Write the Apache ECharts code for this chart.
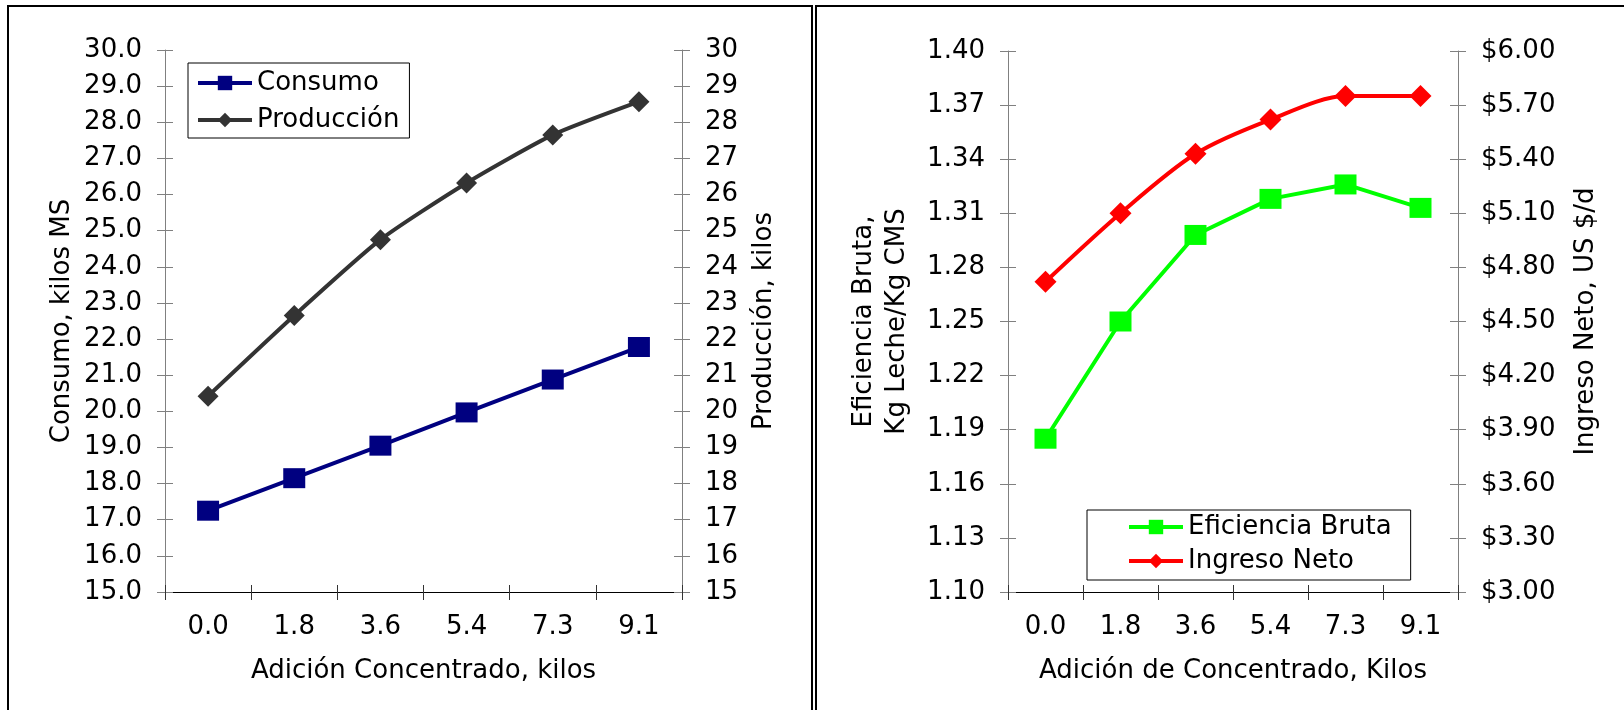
<!DOCTYPE html>
<html>
<head>
<meta charset="utf-8">
<title>Concentrado</title>
<script src="https://cdn.jsdelivr.net/npm/echarts@6/dist/echarts.min.js"></script>
<style>
html, body { margin: 0; padding: 0; background: #fff; }
.frame { position: absolute; border: 2px solid #000; box-sizing: border-box; }
#main { position: absolute; left: 0; top: 0; width: 1624px; height: 710px; }
</style>
</head>
<body>
<div class="frame" style="left:7px; top:5px; width:806px; height:730px;"></div>
<div class="frame" style="left:815px; top:5px; width:830px; height:730px;"></div>
<div id="main"></div>
<script>
// valores
const categories = ["0.0", "1.8", "3.6", "5.4", "7.3", "9.1"]
const consumo = [17.25, 18.15, 19.05, 19.97, 20.88, 21.78]
const produccion = [20.42, 22.65, 24.75, 26.32, 27.65, 28.57]
const eficiencia = [1.185, 1.25, 1.298, 1.318, 1.326, 1.313]
const ingreso = [4.72, 5.1, 5.43, 5.62, 5.75, 5.75]

const font = "DejaVu Sans"
const fs = 26
const txt = { fontFamily: font, fontSize: fs, color: "#000" }

var myChart = echarts.init(document.getElementById("main"))

// eje y principal + copia sin etiquetas para que las marcas crucen el eje
const yAxisPair = (grid, pos, min, max, step, fmt, name, gap, extra) => [
  {
    type: "value", gridIndex: grid, position: pos, min: min, max: max, interval: step,
    splitLine: { show: false },
    axisLine: { show: true, lineStyle: { color: "#808080", width: 1 } },
    axisTick: { show: true, length: 8, lineStyle: { color: "#808080" } },
    axisLabel: Object.assign({ margin: 23, formatter: fmt }, txt),
    name: name, nameLocation: "middle", nameRotate: 90, nameGap: gap,
    nameTextStyle: Object.assign({}, txt, extra || {})
  },
  {
    type: "value", gridIndex: grid, position: pos, min: min, max: max, interval: step,
    splitLine: { show: false },
    axisLine: { show: false },
    axisTick: { show: true, inside: true, length: 8, lineStyle: { color: "#808080" } },
    axisLabel: { show: false }
  }
]

const xAxisPair = (grid, name) => [
  {
    type: "category", gridIndex: grid, position: "bottom", data: categories,
    axisLine: { show: true, onZero: false, lineStyle: { color: "#000", width: 1 } },
    axisTick: { show: true, interval: 0, length: 8, lineStyle: { color: "#333", width: 1 } },
    axisLabel: Object.assign({ margin: 22, interval: 0 }, txt),
    name: name, nameLocation: "middle", nameGap: 66,
    nameTextStyle: txt
  },
  {
    type: "category", gridIndex: grid, position: "bottom", data: categories,
    axisLine: { show: false, onZero: false },
    axisTick: { show: true, interval: 0, inside: true, length: 7, lineStyle: { color: "#333", width: 1 } },
    axisLabel: { show: false }
  }
]

var option = {
  animation: false,
  grid: [
    { left: 165, top: 50, width: 517, height: 542 },
    { left: 1008, top: 51, width: 450, height: 541 }
  ],
  legend: [
    {
      orient: "vertical", left: 188, top: 63,
      padding: [7, 10, 5, 8], itemGap: 11,
      itemWidth: 54, itemHeight: 18,
      borderColor: "#000", borderWidth: 1,
      lineStyle: { width: 4 },
      textStyle: txt,
      data: ["Consumo", "Producción"]
    },
    {
      orient: "vertical", left: 1087, top: 510,
      padding: [4, 19, 6, 40], itemGap: 8,
      itemWidth: 54, itemHeight: 18,
      borderColor: "#000", borderWidth: 1,
      lineStyle: { width: 4 },
      textStyle: txt,
      data: ["Eficiencia Bruta", "Ingreso Neto"]
    }
  ],
  xAxis: [].concat(
    xAxisPair(0, "Adición Concentrado, kilos"),
    xAxisPair(1, "Adición de Concentrado, Kilos")
  ),
  yAxis: [].concat(
    yAxisPair(0, "left", 15, 30, 1, v => v.toFixed(1), "Consumo, kilos MS", 90),
    yAxisPair(0, "right", 15, 30, 1, v => v.toFixed(0), "Producción, kilos", 69),
    yAxisPair(1, "left", 1.1, 1.4, 0.03, v => v.toFixed(2), "Eficiencia Bruta,\nKg Leche/Kg CMS", 94, { lineHeight: 33 }),
    yAxisPair(1, "right", 3, 6, 0.3, v => "$" + v.toFixed(2), "Ingreso Neto, US $/d", 115)
  ),
  series: [
    {
      name: "Consumo", type: "line", xAxisIndex: 0, yAxisIndex: 0,
      data: consumo, symbol: "rect", symbolSize: [22, 20],
      lineStyle: { color: "#000080", width: 4 },
      itemStyle: { color: "#000080" }
    },
    {
      name: "Producción", type: "line", xAxisIndex: 0, yAxisIndex: 2,
      data: produccion, symbol: "diamond", symbolSize: 21, smooth: 0.2,
      lineStyle: { color: "#333333", width: 4 },
      itemStyle: { color: "#333333" }
    },
    {
      name: "Eficiencia Bruta", type: "line", xAxisIndex: 2, yAxisIndex: 4,
      data: eficiencia, symbol: "rect", symbolSize: [22, 20],
      lineStyle: { color: "#00ff00", width: 4 },
      itemStyle: { color: "#00ff00" }
    },
    {
      name: "Ingreso Neto", type: "line", xAxisIndex: 2, yAxisIndex: 6,
      data: ingreso, symbol: "diamond", symbolSize: 22, smooth: 0.3,
      lineStyle: { color: "#ff0000", width: 4 },
      itemStyle: { color: "#ff0000" }
    }
  ]
}

option && myChart.setOption(option)
</script>
</body>
</html>
